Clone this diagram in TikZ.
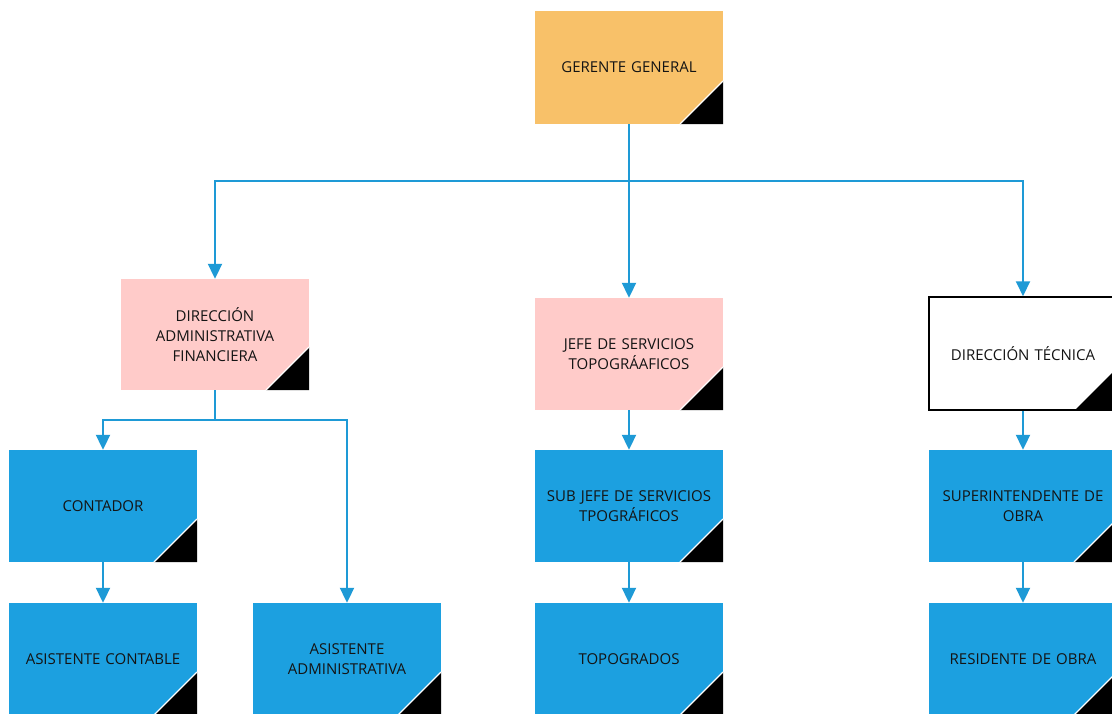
\documentclass[tikz,border=0pt]{standalone}
\usepackage{fontspec}
\setmainfont{Open Sans}
\usetikzlibrary{arrows.meta}
\definecolor{gorange}{HTML}{F8C169}
\definecolor{gpink}{HTML}{FFCBC9}
\definecolor{gblue}{HTML}{1CA0E0}
\definecolor{lblue}{HTML}{1E9AD6}
\tikzset{
  box/.style={rectangle, minimum width=185pt, minimum height=112pt, inner sep=4pt,
    text width=180pt, align=center, font=\fontsize{15}{20}\selectfont, text=black!92,
    path picture={
      \fill[black] ([xshift=-43pt]path picture bounding box.south east) --
        (path picture bounding box.south east) --
        ([yshift=43pt]path picture bounding box.south east) -- cycle;
      \draw[white, line width=1.3pt] ([xshift=-43pt]path picture bounding box.south east) --
        ([yshift=43pt]path picture bounding box.south east);
    }},
  orangebox/.style={box, fill=gorange},
  pinkbox/.style={box, fill=gpink},
  bluebox/.style={box, fill=gblue},
  whitebox/.style={box, fill=white, draw=black, line width=1.5pt},
  conn/.style={draw=lblue, line width=2pt},
  arr/.style={conn, -{Triangle[width=14pt,length=15pt]}},
}
\begin{document}
\begin{tikzpicture}[x=1pt, y=-1pt]
\useasboundingbox (0,0) rectangle (1112,713);
\clip (0,0) rectangle (1112,713);
\fill[white] (0,0) rectangle (1112,713);

\node[orangebox, minimum height=113pt] (gg) at (629,67.5) {GERENTE GENERAL};
\node[pinkbox, minimum width=186pt, minimum height=111pt] (daf) at (215,334.5) {DIRECCIÓN\\ADMINISTRATIVA\\FINANCIERA};
\node[pinkbox] (jefe) at (629,354) {JEFE DE SERVICIOS\\TOPOGRÁAFICOS};
\node[whitebox, minimum width=186pt, minimum height=113pt] (dt) at (1023,353.5) {DIRECCIÓN TÉCNICA};
\node[bluebox] (cont) at (103,506) {CONTADOR};
\node[bluebox] (asc) at (103,659) {ASISTENTE CONTABLE};
\node[bluebox] (asa) at (347,659) {ASISTENTE\\ADMINISTRATIVA};
\node[bluebox] (sub) at (629,506) {SUB JEFE DE SERVICIOS\\TPOGRÁFICOS};
\node[bluebox] (topo) at (629,659) {TOPOGRADOS};
\node[bluebox] (sup) at (1023,506) {SUPERINTENDENTE DE\\OBRA};
\node[bluebox] (res) at (1023,659) {RESIDENTE DE OBRA};

\coordinate (bus1) at (629,181);
\coordinate (bus2) at (215,420);

\draw[conn] (gg.south) -- (bus1);
\draw[arr] (bus1) -| (daf.north);
\draw[arr] (bus1) -- (jefe.north);
\draw[arr] (bus1) -| (dt.north);

\draw[conn] (daf.south) -- (bus2);
\draw[arr] (bus2) -| (cont.north);
\draw[arr] (bus2) -| (asa.north);

\draw[arr] (cont.south) -- (asc.north);
\draw[arr] (jefe.south) -- (sub.north);
\draw[arr] (sub.south) -- (topo.north);
\draw[arr] (dt.south) -- (sup.north);
\draw[arr] (sup.south) -- (res.north);
\end{tikzpicture}
\end{document}
